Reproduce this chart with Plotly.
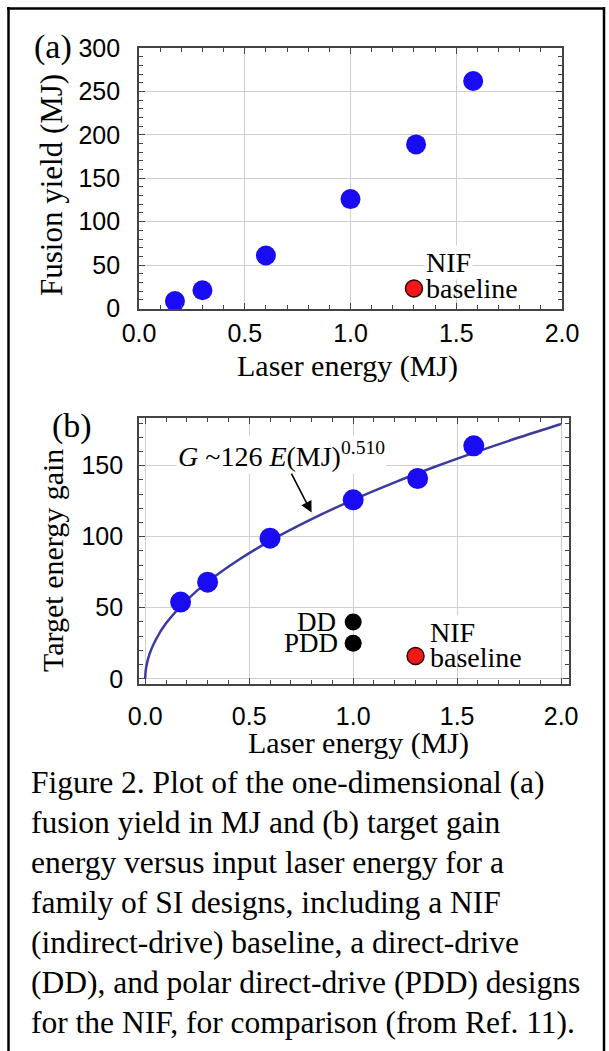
import plotly.graph_objects as go

W, H = 609, 1051

# ---------------- data ----------------
# Panel (a): fusion yield vs laser energy
energy_a = [0.17, 0.30, 0.60, 1.00, 1.31, 1.58]
yield_a = [8.5, 21, 61, 126, 189, 262]
nif_energy_a = [1.30]
nif_yield_a = [23]

# Panel (b): target energy gain vs laser energy
energy_b = [0.17, 0.30, 0.60, 1.00, 1.31, 1.58]
gain_b = [54, 68, 99, 126, 141, 164]
dd_energy = [1.00]
dd_gain = [40]
pdd_energy = [1.00]
pdd_gain = [25]
nif_energy_b = [1.30]
nif_gain_b = [16]

# fitted curve G ~ 126 E^0.510
fit_energy = [0.0, 0.001, 0.005, 0.02, 0.05, 0.1, 0.2, 0.3, 0.45, 0.6, 0.8,
              1.0, 1.2, 1.4, 1.6, 1.8, 2.0]
fit_gain = [0.0, 3.7, 8.5, 17.1, 27.3, 39.0, 55.4, 68.2, 83.8, 97.1, 112.4,
            126.0, 138.3, 149.6, 160.1, 170.0, 179.4]

x_tick_vals = [0.0, 0.5, 1.0, 1.5, 2.0]
x_tick_text = ["0.0", "0.5", "1.0", "1.5", "2.0"]
y_tick_vals_a = [0, 50, 100, 150, 200, 250, 300]
y_tick_vals_b = [0, 50, 100, 150]

caption_lines = [
    "Figure 2. Plot of the one-dimensional (a)",
    "fusion yield in MJ and (b) target gain",
    "energy versus input laser energy for a",
    "family of SI designs, including a NIF",
    "(indirect-drive) baseline, a direct-drive",
    "(DD), and polar direct-drive (PDD) designs",
    "for the NIF, for comparison (from Ref. 11).",
]

# ---------------- styling ----------------
BLUE = "#1a0cf2"
RED = "#f01818"
CURVE = "#3c3a9c"
SERIF = "Liberation Serif, Times New Roman, serif"
SANS = "Liberation Sans, Arial, sans-serif"


def px(x):
    return x / W


def py(y):
    return 1 - y / H


fig = go.Figure()

# panel (a)
fig.add_trace(go.Scatter(x=energy_a, y=yield_a, mode="markers", xaxis="x", yaxis="y",
                         marker=dict(size=20, color=BLUE), cliponaxis=False, showlegend=False))
fig.add_trace(go.Scatter(x=nif_energy_a, y=nif_yield_a, mode="markers", xaxis="x", yaxis="y",
                         marker=dict(size=17, color=RED, line=dict(color="#300000", width=1.5)),
                         cliponaxis=False, showlegend=False))

# panel (b)
fig.add_trace(go.Scatter(x=fit_energy, y=fit_gain, mode="lines", xaxis="x2", yaxis="y2",
                         line=dict(color=CURVE, width=2.5, shape="spline"), showlegend=False))
fig.add_trace(go.Scatter(x=energy_b, y=gain_b, mode="markers", xaxis="x2", yaxis="y2",
                         marker=dict(size=21, color=BLUE), cliponaxis=False, showlegend=False))
fig.add_trace(go.Scatter(x=dd_energy + pdd_energy, y=dd_gain + pdd_gain, mode="markers",
                         xaxis="x2", yaxis="y2", marker=dict(size=17, color="black"),
                         cliponaxis=False, showlegend=False))
fig.add_trace(go.Scatter(x=nif_energy_b, y=nif_gain_b, mode="markers", xaxis="x2", yaxis="y2",
                         marker=dict(size=17, color=RED, line=dict(color="#300000", width=1.5)),
                         cliponaxis=False, showlegend=False))

common_axis = dict(
    showline=True, linecolor="#444", linewidth=1.8, mirror="allticks",
    ticks="inside", ticklen=6, tickcolor="#444", tickwidth=1.2,
    showgrid=True, gridcolor="#cfcfcf", gridwidth=1, zeroline=False,
    automargin=False,
    tickfont=dict(family=SANS, size=25, color="black"),
)

fig.update_layout(
    template="none",
    width=W, height=H, autosize=False,
    margin=dict(l=0, r=0, t=0, b=0, pad=0),
    paper_bgcolor="white", plot_bgcolor="white",
    xaxis=dict(domain=[px(139), px(562)], range=[0, 2.0], anchor="y",
               tickvals=x_tick_vals, ticktext=x_tick_text, ticklabelstandoff=2,
               minor=dict(dtick=0.1, ticks="inside", ticklen=4, tickcolor="#444", showgrid=False),
               **common_axis),
    yaxis=dict(domain=[py(308.5), py(48)], range=[0, 300], anchor="x",
               tickvals=y_tick_vals_a, ticklabelstandoff=12,
               minor=dict(dtick=10, ticks="inside", ticklen=4, tickcolor="#444", showgrid=False),
               **common_axis),
    xaxis2=dict(domain=[px(139), px(569)], range=[-0.03, 2.038], anchor="y2",
                tickvals=x_tick_vals, ticktext=x_tick_text, ticklabelstandoff=9,
                minor=dict(dtick=0.1, ticks="inside", ticklen=4, tickcolor="#444", showgrid=False),
                **common_axis),
    yaxis2=dict(domain=[py(684), py(418)], range=[-3.7, 183.6], anchor="x2",
                tickvals=y_tick_vals_b, ticklabelstandoff=9,
                minor=dict(dtick=10, ticks="inside", ticklen=4, tickcolor="#444", showgrid=False),
                **common_axis),
)

ann = []


def text_px(x, y, text, size=29, xanchor="center", family=SERIF, angle=0, bg=None):
    d = dict(x=px(x), y=py(y), xref="paper", yref="paper", text=text, showarrow=False,
             xanchor=xanchor, yanchor="middle", textangle=angle,
             font=dict(family=family, size=size, color="black"))
    if bg:
        d["bgcolor"] = bg
    ann.append(d)


# panel labels
text_px(53, 47, "(a)", size=34)
text_px(72, 426, "(b)", size=34)

# axis titles
text_px(347, 366, "Laser energy (MJ)", size=30)
text_px(359, 743, "Laser energy (MJ)", size=30)
text_px(51, 185, "Fusion yield (MJ)", size=31, angle=-90)
text_px(52, 561, "Target energy gain", size=30, angle=-90)

# point labels (a)
text_px(424, 262, "NIF", size=28, xanchor="left", bg="white")
text_px(424, 288, "baseline", size=28, xanchor="left")

# point labels (b)
text_px(428, 632, "NIF", size=28, xanchor="left", bg="white")
text_px(428, 657, "baseline", size=28, xanchor="left")
text_px(338, 622, "DD", size=27, xanchor="right")
text_px(340, 643, "PDD", size=27, xanchor="right")

# formula label with its arrow pointing to the fit curve
ann.append(dict(x=0.80, y=117, xref="x2", yref="y2", ax=-30, ay=-58,
                text="<i>G</i> ~126 <i>E</i>(MJ)<sup>0.510</sup>",
                font=dict(family=SERIF, size=28, color="black"), bgcolor="white",
                showarrow=True, arrowhead=2, arrowsize=1.4, arrowwidth=1.6,
                arrowcolor="black"))

# caption
for i, line in enumerate(caption_lines):
    text_px(29, 782 + i * 40, line, size=31.5, xanchor="left")

fig.update_layout(annotations=ann)

# outer frame
frame = dict(type="line", xref="paper", yref="paper", line=dict(color="black", width=2.5))
fig.update_layout(shapes=[
    dict(frame, x0=px(8.5), x1=px(8.5), y0=0, y1=py(7)),
    dict(frame, x0=px(7), x1=px(605), y0=py(8.5), y1=py(8.5)),
    dict(frame, x0=px(604), x1=px(604), y0=0, y1=py(7)),
])

fig.write_html("out.html",
               config={"displayModeBar": False},
               post_script="document.body.style.margin='0px';document.body.style.overflow='hidden';")
